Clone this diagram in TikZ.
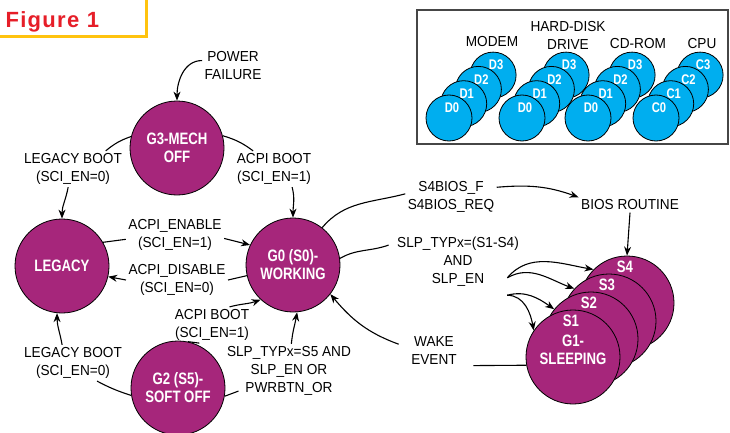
\documentclass[tikz,border=0pt]{standalone}
\usepackage{fontspec}
\setmainfont[FakeStretch=0.94]{Liberation Sans}
\newfontfamily\statefont[FakeStretch=0.8]{Liberation Sans}
\newfontfamily\titlefont[LetterSpace=6]{Liberation Sans}
\usetikzlibrary{arrows.meta}
\definecolor{statefill}{RGB}{166,38,123}
\definecolor{diskblue}{RGB}{0,174,239}
\definecolor{titlered}{RGB}{230,30,40}
\definecolor{frameyellow}{RGB}{255,195,15}
\definecolor{boxgray}{RGB}{70,70,70}

\begin{document}
\begin{tikzpicture}[x=1pt,y=1pt,>={Stealth[length=9pt,width=7pt]},line width=1.1pt]
    \tikzstyle{gstate}=[circle,draw=black,line width=0.8pt,fill=statefill,minimum size=94pt,inner sep=0pt,text=white,align=center,font=\statefont\bfseries\fontsize{16.5}{18}\selectfont]
    \tikzstyle{gtext}=[text=white,align=center,inner sep=0pt,font=\statefont\bfseries\fontsize{16.5}{18}\selectfont]
    \tikzstyle{sleeptext}=[gtext,xshift=-2pt,yshift=36pt]
    \tikzstyle{disk}=[circle,draw=black,line width=0.8pt,fill=diskblue,minimum size=46pt,inner sep=0pt]
    \tikzstyle{disktext}=[text=white,inner sep=0pt,xshift=3pt,yshift=10pt,font=\statefont\bfseries\fontsize{14}{15}\selectfont]
    \tikzstyle{lbl}=[align=center,inner sep=2pt,font=\fontsize{14.5}{18}\selectfont]
    \useasboundingbox (0,0) rectangle (730,-433);

    % title
    \node[anchor=base west,text=titlered,font=\titlefont\bfseries\fontsize{22}{24}\selectfont,inner sep=0pt] (title) at (5,-28) {Figure 1};
    \draw[frameyellow,line width=3pt] (0,-37) -| (146,0);

    % device states
    \draw[boxgray,line width=1.5pt] (417,-10) rectangle (728,-144);
    \node[lbl] (modem) at (492,-42) {MODEM};
    \node[lbl] (hdd) at (568,-35) {HARD-DISK\\DRIVE};
    \node[lbl] (cdrom) at (638,-44) {CD-ROM};
    \node[lbl] (cpu) at (702,-44) {CPU};
    \foreach \dev/\x/\p in {M/449/D, H/522/D, R/588/D, P/656/C}
        \foreach \i in {3,2,1,0}
            \node[disk,label={[disktext]center:\p\i}] (\dev-\i) at ({\x+14.7*\i},{-118+14.3*\i}) {};

    % global states
    \node[gstate] (G3) at (177,-148) {G3-MECH\\OFF};
    \node[gstate] (LEG) at (62,-266) {LEGACY};
    \node[gstate] (G0) at (293,-265) {G0 (S0)-\\WORKING};
    \node[gstate] (G2) at (178,-388) {G2 (S5)-\\SOFT OFF};
    \foreach \n/\x/\y in {4/627/303, 3/609/321, 2/591/339}
        \node[gstate,label={[sleeptext]center:S\n}] (S-\n) at (\x,-\y) {};
    \node[gstate,label={[sleeptext]center:S1},label={[gtext,yshift=7pt]center:{G1-\\SLEEPING}}] (S-1) at (573,-357) {};

    % transitions
    \node[lbl] (pf) at (233,-66) {POWER\\FAILURE};
    \node[lbl] (lb1) at (73,-169) {LEGACY BOOT\\(SCI\_EN=0)};
    \node[lbl] (ab1) at (274,-169) {ACPI BOOT\\(SCI\_EN=1)};
    \node[lbl] (ae) at (175,-235) {ACPI\_ENABLE\\(SCI\_EN=1)};
    \node[lbl] (ad) at (177,-280) {ACPI\_DISABLE\\(SCI\_EN=0)};
    \node[lbl] (ab2) at (212,-325) {ACPI BOOT\\(SCI\_EN=1)};
    \node[lbl] (lb2) at (73,-363) {LEGACY BOOT\\(SCI\_EN=0)};
    \node[lbl] (s5) at (289,-371) {SLP\_TYPx=S5 AND\\SLP\_EN OR\\PWRBTN\_OR};
    \node[lbl] (s4b) at (451,-197) {S4BIOS\_F\\S4BIOS\_REQ};
    \node[lbl] (bios) at (630,-205) {BIOS ROUTINE};
    \node[lbl] (slp) at (458,-262) {SLP\_TYPx=(S1-S4)\\AND\\SLP\_EN};
    \node[lbl] (wake) at (434,-351) {WAKE\\EVENT};

    \draw[->] (pf.170) to[out=180,in=90] (G3.north);
    \draw (G3.166) to[bend right=10] (lb1.29);
    \draw[->] (lb1.-105) to[out=-100,in=90] (LEG.north);
    \draw (G3.15) to[bend left=10] (ab1.139);
    \draw[->] (ab1.-45) to[out=-75,in=90] (G0.north);
    \draw (LEG.30) -- (ae.-175);
    \draw[->] (ae.-4) -- (G0.155);
    \draw (G0.193) -- (ad.east);
    \draw[->] (ad.west) -- (LEG.-13);
    \draw (G2.78) -- (ab2.-125);
    \draw[->] (ab2.46) to[out=15,in=200] (G0.227);
    \draw (G2.189) to[bend left=5] (lb2.-37);
    \draw[->] (lb2.121) to[out=100,in=-90] (LEG.-96);
    \draw (G2.-10) -- ([shift={(14,7)}]s5.south west);
    \draw[->] (s5.85) to[out=85,in=-100] (G0.-85);
    \draw (G0.52) to[out=50,in=195] (s4b.176);
    \draw[->] (s4b.12) to[out=5,in=160] (bios.north west);
    \draw[->] (bios.south) -- (S-4.north);
    \draw (G0.8) to[out=30,in=200] ([xshift=-6]slp.165);
    \draw[->] ([xshift=-14]slp.-14) to[out=50,in=170] (S-4.135);
    \draw[->] ([xshift=-14]slp.-14) to[out=30,in=160] (S-3.137);
    \draw[->] ([yshift=-6]slp.-29) to[out=15,in=145] (S-2.141);
    \draw[->] ([yshift=-6]slp.-29) to[out=0,in=100] (S-1.146);
    \draw (S-1.190) -- ([xshift=14]wake.-30);
    \draw[->] ([xshift=-10]wake.165) to[out=160,in=-50] (G0.-38);
\end{tikzpicture}
\end{document}
